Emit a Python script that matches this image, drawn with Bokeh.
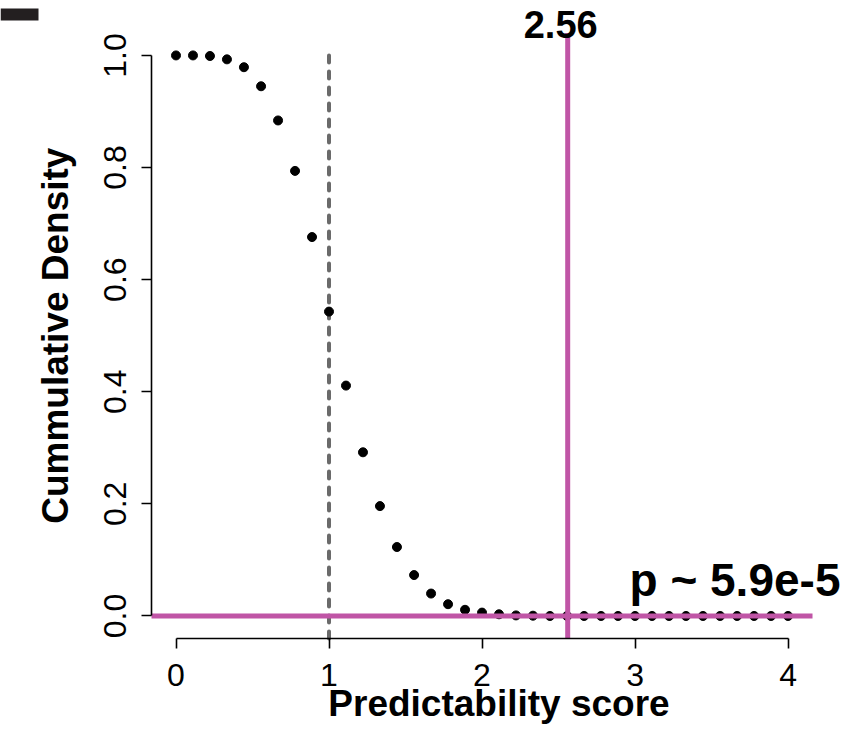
import math
from bokeh.plotting import figure
from bokeh.models import Range1d, Label, BoxAnnotation, FixedTicker, NumeralTickFormatter
from bokeh.embed import file_html
from bokeh.resources import INLINE

# Empirical cumulative density of the predictability score
score = [0.000, 0.111, 0.222, 0.333, 0.444, 0.556, 0.667, 0.778, 0.889, 1.000,
         1.111, 1.222, 1.333, 1.444, 1.556, 1.667, 1.778, 1.889, 2.000, 2.111,
         2.222, 2.333, 2.444, 2.556, 2.667, 2.778, 2.889, 3.000, 3.111, 3.222,
         3.333, 3.444, 3.556, 3.667, 3.778, 3.889, 4.000]
cum_density = [1.000, 1.000, 0.999, 0.993, 0.979, 0.945, 0.884, 0.794, 0.676, 0.543,
               0.411, 0.292, 0.196, 0.123, 0.073, 0.040, 0.021, 0.011, 0.006, 0.003,
               0.001, 0.0005, 0.0, 0.0, 0.0, 0.0, 0.0, 0.0, 0.0, 0.0,
               0.0, 0.0, 0.0, 0.0, 0.0, 0.0, 0.0]

x_ticks = [0, 1, 2, 3, 4]
y_ticks = [0.0, 0.2, 0.4, 0.6, 0.8, 1.0]

threshold = 1.0          # reference score
observed = 2.56          # observed score
observed_label = "2.56"
p_label = "p ~ 5.9e-5"

# plotting region (data limits padded by 4%, as in base graphics)
XLIM = (-0.16, 4.16)
YLIM = (-0.04, 1.04)

MAGENTA = "#c055a6"
FONT = "Liberation Sans"

# the frame fills the whole canvas so that texts may sit in the margins;
# axes are pinned to the edges of the plotting region
p = figure(width=857, height=750, output_backend="svg", toolbar_location=None,
           x_range=Range1d(-1.147, 4.454), y_range=Range1d(-0.240, 1.098),
           min_border=0, min_border_left=0, min_border_right=0,
           min_border_top=0, min_border_bottom=0)
p.outline_line_color = None
p.grid.visible = False
p.background_fill_color = "white"
p.border_fill_color = "white"

for ax, ticks, bounds, loc in ((p.xaxis[0], x_ticks, (0, 4), YLIM[0]),
                               (p.yaxis[0], y_ticks, (0, 1), XLIM[0])):
    ax.fixed_location = loc
    ax.ticker = FixedTicker(ticks=ticks)
    ax.bounds = bounds
    ax.axis_line_width = 1.6
    ax.axis_line_color = "black"
    ax.major_tick_line_width = 1.6
    ax.major_tick_line_color = "black"
    ax.major_tick_in = 0
    ax.major_tick_out = 10
    ax.minor_tick_line_color = None
    ax.major_label_text_font = FONT
    ax.major_label_text_font_size = "32px"
    ax.major_label_text_color = "black"

p.xaxis.major_label_standoff = 16
p.yaxis.formatter = NumeralTickFormatter(format="0.0")
p.yaxis.major_label_orientation = "vertical"
p.yaxis.major_label_standoff = 16

# axis titles
p.add_layout(Label(x=2.111, y=-0.157, text="Predictability score",
                   text_align="center", text_baseline="alphabetic",
                   text_font=FONT, text_font_style="bold", text_font_size="37px",
                   text_color="black"))
p.add_layout(Label(x=-0.788, y=0.5, text="Cummulative Density", angle=math.pi / 2,
                   text_align="center", text_baseline="alphabetic",
                   text_font=FONT, text_font_style="bold", text_font_size="37px",
                   text_color="black"))

# dashed reference at score 1
p.segment(x0=[threshold], y0=[1.0], x1=[threshold], y1=[YLIM[0]],
          line_color="#6a6a6a", line_width=4, line_dash="7 9", line_cap="round")

p.scatter(score, cum_density, size=9, color="black")

# observed score and zero level
p.segment(x0=[XLIM[0]], y0=[0.0], x1=[XLIM[1]], y1=[0.0],
          line_color=MAGENTA, line_width=5)
p.segment(x0=[observed], y0=[YLIM[0]], x1=[observed], y1=[YLIM[1]],
          line_color=MAGENTA, line_width=5)

p.add_layout(Label(x=observed, y=1.0543, text=observed_label, text_align="center",
                   text_baseline="alphabetic", x_offset=-7,
                   text_font=FONT, text_font_style="bold", text_font_size="38px",
                   text_color="black"))
p.add_layout(Label(x=2.964, y=0.0635, text=p_label, text_align="left",
                   text_baseline="alphabetic",
                   text_font=FONT, text_font_style="bold", text_font_size="46px",
                   text_color="black"))

# panel marker in the corner
p.add_layout(BoxAnnotation(left=0, right=38, top=8, bottom=20,
                           left_units="canvas", right_units="canvas",
                           top_units="canvas", bottom_units="canvas",
                           fill_color="#231f20", fill_alpha=1.0, line_color=None))

open("out.html", "w").write(file_html(p, INLINE))
